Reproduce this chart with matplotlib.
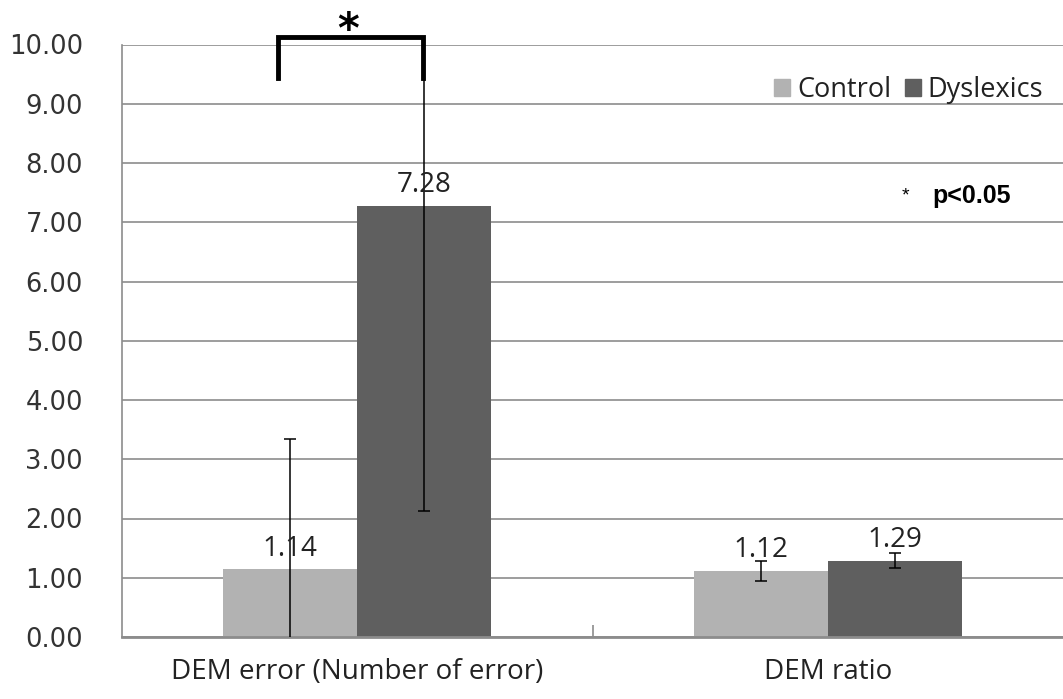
import matplotlib
matplotlib.use("Agg")
import matplotlib.pyplot as plt
import numpy as np
from matplotlib.patches import Patch

categories = ["DEM error (Number of error)", "DEM ratio"]
series_names = ["Control", "Dyslexics"]
control_mean = [1.14, 1.12]
dyslexic_mean = [7.28, 1.29]
control_sd = [2.21, 0.17]
dyslexic_sd = [5.16, 0.13]
y_ticks = [0, 1, 2, 3, 4, 5, 6, 7, 8, 9, 10]

c_ctrl = "#b2b2b2"
c_dys = "#5f5f5f"

fig = plt.figure(figsize=(10.63, 6.99), dpi=100)
ax = fig.add_axes([122/1063, 1-637/699, 1-122/1063, (637-44.5)/699])

x = np.arange(len(categories))
w = 0.285
b1 = ax.bar(x - w/2, control_mean, w, color=c_ctrl, zorder=2)
b2 = ax.bar(x + w/2, dyslexic_mean, w, color=c_dys, zorder=2)
ax.errorbar(x - w/2, control_mean, yerr=control_sd, fmt="none", ecolor="black",
            elinewidth=1.1, capsize=4, capthick=1.1, zorder=3)
ax.errorbar(x + w/2, dyslexic_mean, yerr=dyslexic_sd, fmt="none", ecolor="black",
            elinewidth=1.1, capsize=4, capthick=1.1, zorder=3)

lab_font = dict(family="Open Sans", fontsize=20, color="#222222")
for bars, vals in ((b1, control_mean), (b2, dyslexic_mean)):
    for r, v in zip(bars, vals):
        ax.annotate(f"{v:.2f}", (r.get_x() + r.get_width()/2, v), xytext=(0, 5),
                    textcoords="offset points", ha="center", va="bottom", zorder=4, **lab_font)

ax.set_ylim(0, 10)
ax.set_xlim(-0.5, 1.5)
ax.set_yticks(y_ticks)
ax.set_yticklabels([f"{t:.2f}" for t in y_ticks], family="DejaVu Sans", fontsize=18.5, color="#333333")
ax.tick_params(axis="y", length=0, pad=28)
ax.yaxis.grid(True, color="#8c8c8c", linewidth=1.2, zorder=0)
ax.set_axisbelow(True)
ax.set_xticks(x)
ax.set_xticklabels(categories, family="Open Sans", fontsize=20, color="#222222")
ax.tick_params(axis="x", length=0, pad=15)
ax.set_xticks([0.5], minor=True)
ax.tick_params(axis="x", which="minor", direction="in", length=9, color="#8c8c8c", width=1.2)

for s in ["top", "right"]:
    ax.spines[s].set_visible(False)
ax.spines["left"].set_color("#8c8c8c")
ax.spines["left"].set_linewidth(1.2)
ax.spines["bottom"].set_color("#8c8c8c")
ax.spines["bottom"].set_linewidth(2)

# significance bracket
xl, xr = -0.168, 0.140
ax.plot([xl, xl, xr, xr], [9.44, 10.13, 10.13, 9.44], color="black", lw=3.5,
        clip_on=False, zorder=5, solid_joinstyle="miter")
ax.text(-0.019, 9.87, "*", ha="center", va="bottom", fontsize=30,
        fontweight="bold", family="DejaVu Sans", clip_on=False)

handles = [Patch(color=c_ctrl), Patch(color=c_dys)]
leg = ax.legend(handles, series_names, loc="upper right", bbox_to_anchor=(1.005, 0.988),
                ncol=2, frameon=False, handlelength=0.6, handleheight=0.6,
                handletextpad=0.25, columnspacing=0.5,
                prop=dict(family="Open Sans", size=19.5))
for t in leg.get_texts():
    t.set_color("#222222")

ax.text(0.833, 0.745, "*", transform=ax.transAxes, fontsize=14, family="Liberation Sans",
        ha="center", va="center")
ax.text(0.861, 0.745, "p<0.05", transform=ax.transAxes, fontsize=18, family="Liberation Sans",
        fontweight="bold", ha="left", va="center")

fig.savefig("out.png", dpi=100)
